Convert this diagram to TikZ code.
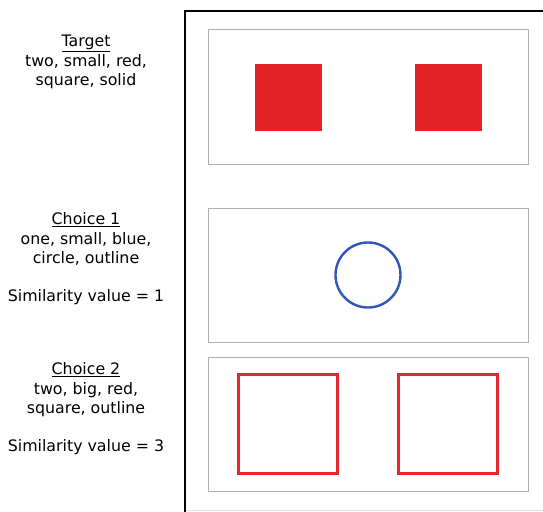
\documentclass[tikz,border=0pt]{standalone}
\usepackage{fontspec}
\setmainfont{DejaVu Sans}
\definecolor{fillred}{RGB}{227,35,40}
\definecolor{linered}{RGB}{228,40,48}
\definecolor{lineblue}{RGB}{50,85,185}
\definecolor{panelgray}{RGB}{175,175,175}
\begin{document}
\begin{tikzpicture}[x=1pt,y=-1pt,
  lbl/.style={font=\fontsize{15.8}{18}\selectfont, inner sep=0pt, anchor=center, text height=11.5pt, text depth=3pt},
  panel/.style={draw=panelgray, line width=1pt},
  frame/.style={draw=black, line width=2.4pt},
  solidsq/.style={fill=fillred, draw=none},
  outsq/.style={draw=linered, line width=2.4pt},
  circ/.style={draw=lineblue, line width=2.4pt}]
\useasboundingbox (0,0) rectangle (543,511);
% outer frame
\coordinate (ftl) at (185,11);
\coordinate (ftr) at (545,11);
\coordinate (fbl) at (185,512);
\draw[frame] (fbl) -- (ftl) -- (ftr);
\draw[draw=black!12, line width=1pt] (186,510) -- (545,510);
% panels
\node[panel, minimum width=320pt, minimum height=134pt, inner sep=0pt] (p1) at (368,97) {};
\node[panel, minimum width=320pt, minimum height=134pt, inner sep=0pt] (p2) at (368,275) {};
\node[panel, minimum width=320pt, minimum height=134pt, inner sep=0pt] (p3) at (368,424) {};
% target squares
\node[solidsq, minimum size=67pt, inner sep=0pt] (t1) at (288.5,97.5) {};
\node[solidsq, minimum size=67pt, inner sep=0pt] (t2) at (448.5,97.5) {};
% choice 1 circle
\node[circ, circle, minimum size=65pt, inner sep=0pt] (c1) at (368,275) {};
% choice 2 squares
\node[outsq, minimum size=99pt, inner sep=0pt] (s1) at (288,424) {};
\node[outsq, minimum size=99pt, inner sep=0pt] (s2) at (448,424) {};
% labels
\node[lbl] (tt) at (86,42) {\underline{Target}};
\node[lbl] (ta) at (86,62) {two, small, red,};
\node[lbl] (tb) at (86,81) {square, solid};
\node[lbl] (at) at (86,220) {\underline{Choice 1}};
\node[lbl] (aa) at (86,240) {one, small, blue,};
\node[lbl] (ab) at (86,259) {circle, outline};
\node[lbl] (as) at (86,297) {Similarity value = 1};
\node[lbl] (bt) at (86,370) {\underline{Choice 2}};
\node[lbl] (ba) at (86,390) {two, big, red,};
\node[lbl] (bb) at (86,409) {square, outline};
\node[lbl] (bs) at (86,447) {Similarity value = 3};
\end{tikzpicture}
\end{document}
